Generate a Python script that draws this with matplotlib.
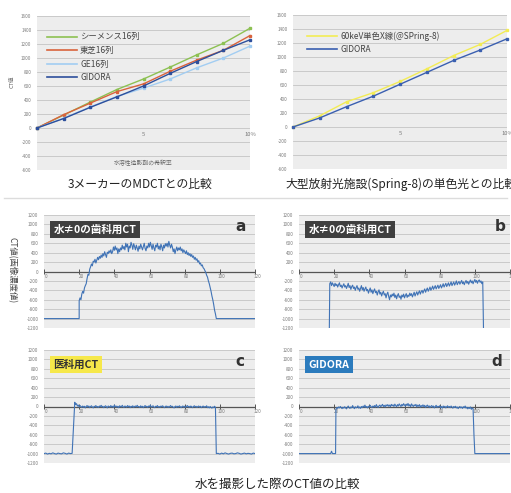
import numpy as np
import matplotlib
matplotlib.use("Agg")
import matplotlib.pyplot as plt
from matplotlib.lines import Line2D

plt.rcParams['font.family'] = ['Noto Sans CJK JP', 'DejaVu Sans']

# ---------------- data: contrast dilution vs CT value ----------------
dilution = [0, 1.25, 2.5, 3.75, 5, 6.25, 7.5, 8.75, 10]
siemens = [0, 185, 370, 550, 700, 870, 1045, 1210, 1425]
toshiba = [0, 190, 355, 520, 630, 810, 970, 1110, 1320]
ge = [0, 140, 300, 450, 570, 700, 860, 1000, 1170]
gidora = [0, 135, 295, 445, 600, 780, 950, 1110, 1260]
spring8 = [0, 160, 360, 490, 650, 830, 1020, 1180, 1380]
gidora_sp = [0, 130, 290, 440, 610, 780, 950, 1100, 1260]

left_labels = ['シーメンス16列', '東芝16列', 'GE16列', 'GIDORA']
right_labels = ['60keV単色X線(@SPring-8)', 'GIDORA']
top_yticks = [-600, -400, -200, 0, 200, 400, 600, 800, 1000, 1200, 1400, 1600]
top_xticks = [5, 10]
top_xticklabels = ['5', '10%']

# ---------------- data: water phantom profiles ----------------
STEP = 0.5
# (a) dental CT, water != 0
a_head_x = [0, 20]
a_head_y = [-1000, -1000]
a_start = 20
a_vals = [
    -620, -560, -600, -480, -420, -460, -350, -300, -260, -150,
    -60, -80, 50, 100, 160, 120, 220, 200, 260, 180,
    240, 300, 250, 320, 280, 350, 300, 380, 330, 420,
    360, 300, 410, 380, 440, 400, 460, 380, 420, 520,
    450, 540, 460, 500, 380, 480, 420, 500, 460, 560,
    480, 530, 460, 600, 520, 580, 420, 540, 500, 620,
    560, 470, 590, 530, 460, 560, 500, 430, 540, 480,
    580, 520, 460, 530, 600, 490, 440, 540, 500, 600,
    520, 620, 540, 470, 580, 500, 440, 560, 520, 600,
    480, 540, 460, 580, 520, 440, 560, 500, 590, 540,
    600, 520, 640, 560, 500, 580, 520, 420, 480, 380,
    460, 520, 440, 500, 460, 520, 440, 480, 400, 460,
    420, 380, 440, 360, 400, 340, 380, 320, 360, 300,
    330, 260, 300, 240, 270, 200, 230, 160, 180, 120,
    140, 80, 60, 20, -20, -80, -120, -200, -260, -340,
    -420, -520, -600, -700, -820, -900,
]
a_tail_x = [98, 120]
a_tail_y = [-1000, -1000]

# (b) dental CT, water != 0 (second unit)
b_head_x = [17.2]
b_head_y = [-1400]
b_start = 17.5
b_vals = [
    -260, -220, -300, -240, -280, -320, -250, -300, -270, -330,
    -280, -240, -320, -290, -350, -300, -260, -330, -300, -360,
    -310, -250, -340, -300, -380, -320, -290, -360, -330, -400,
    -340, -300, -380, -350, -420, -360, -300, -390, -340, -420,
    -370, -330, -410, -380, -460, -400, -350, -440, -390, -470,
    -410, -370, -450, -420, -500, -430, -390, -480, -440, -520,
    -460, -420, -500, -470, -560, -480, -440, -530, -600, -500,
    -540, -480, -520, -460, -550, -500, -580, -510, -470, -550,
    -520, -590, -500, -540, -480, -560, -510, -470, -550, -500,
    -530, -460, -510, -470, -540, -490, -440, -520, -470, -430,
    -500, -450, -410, -480, -430, -400, -460, -410, -370, -440,
    -390, -350, -420, -380, -330, -400, -360, -310, -380, -340,
    -300, -370, -330, -290, -360, -320, -280, -350, -310, -260,
    -330, -290, -250, -320, -280, -240, -310, -270, -220, -300,
    -260, -220, -290, -250, -200, -280, -240, -210, -270, -230,
    -190, -260, -220, -280, -230, -190, -250, -210, -270, -220,
    -180, -240, -200, -260, -210, -170, -230, -190, -250, -200,
    -180, -230, -200, -260, -220,
]
b_tail_x = [105]
b_tail_y = [-1400]

# (c) medical CT
c_head_x = list(range(0, 17))
c_head_y = [-1000, -990, -1010, -995, -1005, -985, -1000, -1010, -990,
            -1000, -1005, -985, -995, -1010, -990, -1000, -995]
c_start = 17
c_vals = [
    -250, 90, 40, 60, 10, 30, -10, 20, 0, -20,
    10, -15, 5, -30, 0, 20, -10, 10, -25, 0,
    15, -10, -30, 5, -5, 20, -15, 0, -20, 10,
    -5, 25, -10, 5, -25, 0, 15, -5, -30, 10,
    0, -15, 20, -10, 5, -20, 30, -5, 10, -15,
    5, -25, 15, 0, -10, 25, -5, -20, 10, 0,
    -15, 20, -5, 10, -25, 5, -10, 15, -20, 0,
    10, -10, 25, -5, 0, -20, 15, -15, 5, -25,
    0, 20, -10, 5, -20, 10, -5, 30, -15, 0,
    15, -10, -25, 5, -5, 20, -15, 0, -20, 10,
    -5, 15, -10, -25, 0, 10, -15, 5, -20, 0,
    20, -10, 5, -15, -30, 0, 10, -20, 5, -10,
    15, -5, -25, 0, 10, -15, 5, -20, 0, 20,
    -10, 5, -20, 10, -5, -25, 0, 15, -10, 5,
    -20, 0, 10, -15, 5, -25, -5, 10, -20, 0,
    -10, 15, -25, -5, -30, 0, -20, -35, -10, -25,
    5, -20,
]
c_tail_x = list(range(98, 121))
c_tail_y = [-1000, -995, -1010, -990, -1005, -985, -1000, -1010, -995, -990,
            -1005, -1000, -985, -995, -1010, -1000, -990, -1005, -995, -1000,
            -1010, -990, -1000]

# (d) GIDORA
d_head_x = [0, 18, 18.5, 19, 20.8]
d_head_y = [-1000, -1000, -950, -1000, -1000]
d_start = 21
d_vals = [
    -60, -20, -40, -10, -30, 0, -25, -45, -15, -35,
    -5, -30, -50, -20, 10, -25, -40, -10, -30, 20,
    -20, -45, -5, -30, -15, 15, -35, -10, -40, 0,
    -25, 10, -15, 30, -20, 0, -30, 5, -10, 25,
    -5, -25, 10, -10, 20, -15, 40, 0, -20, 15,
    30, -5, 20, 45, 0, 25, -10, 35, 10, 40,
    5, 30, -5, 45, 15, 35, 0, 50, 20, -5,
    40, 10, 55, 25, 0, 45, 15, 60, 30, 5,
    50, 20, 65, 10, 40, -5, 55, 25, 0, 35,
    15, 45, -10, 30, 5, 40, -15, 20, 0, 35,
    -5, 25, -20, 10, 30, -10, 15, -25, 5, 20,
    -15, 10, -30, 0, 25, -20, 5, -10, 15, -25,
    0, -35, 10, -15, 5, -30, -5, 15, -20, 0,
    -25, 10, -10, -35, 0, -20, 5, -30, -10, -45,
    -15, 0, -30, -10, -40, -5, -25, 10, -35, -15,
    -50, -20, -40, -10, -60, -30, -45,
]
d_tail_x = [99.5, 100, 120]
d_tail_y = [-600, -1000, -1000]

bot_yticks = [-1200, -1000, -800, -600, -400, -200, 0, 200, 400, 600, 800, 1000, 1200]
bot_xticks = [0, 20, 40, 60, 80, 100, 120]

# ---------------- styling ----------------
PANEL_BG = '#ededed'
GRID = '#c4c4c4'
TICK_COL = '#7a7a7a'
PROFILE = '#4073b6'

W, H = 511, 493
fig = plt.figure(figsize=(W / 100, H / 100), dpi=100)
fig.patch.set_facecolor('white')


def px_axes(x0, y0, x1, y1):
    return fig.add_axes([x0 / W, 1 - y1 / H, (x1 - x0) / W, (y1 - y0) / H])


def fx(x):
    return x / W


def fy(y):
    return 1 - y / H


def style_top(ax):
    ax.set_facecolor(PANEL_BG)
    ax.set_xlim(0, 10)
    ax.set_ylim(-600, 1600)
    ax.set_yticks(top_yticks)
    ax.set_yticklabels([str(v) for v in top_yticks], fontsize=3.3, color=TICK_COL)
    ax.tick_params(axis='y', length=0, pad=4)
    ax.set_xticks([])
    ax.grid(axis='y', color=GRID, lw=0.6)
    ax.set_axisbelow(True)
    for s in ax.spines.values():
        s.set_visible(False)
    for xv, lab in zip(top_xticks, top_xticklabels):
        ax.annotate(lab, (xv, 0), xytext=(0, -3), textcoords='offset points',
                    ha='center', va='top', fontsize=4.2, color=TICK_COL,
                    annotation_clip=False)


def series(ax, y, color):
    ax.plot(dilution, y, color=color, lw=1.0, marker='s', ms=2.0,
            mec=color, mfc=color, clip_on=False, zorder=3)


# top-left: three MDCT vendors vs GIDORA
ax1 = px_axes(37, 16, 250, 170)
style_top(ax1)
left_cols = ['#8dc153', '#d9633c', '#a2cdf2', '#2d4f9c']
for yv, col in zip([siemens, toshiba, ge, gidora], left_cols):
    series(ax1, yv, col)
h1 = [Line2D([], [], color=c, lw=1.2) for c in left_cols]
ax1.legend(h1, left_labels, loc='upper left', bbox_to_anchor=(0.03, 0.915),
           frameon=False, fontsize=6, handlelength=3.6, handletextpad=0.4,
           labelspacing=0.55, borderaxespad=0, labelcolor='#444')
ax1.text(0.5, 0.045, '水溶性造影剤の希釈率', transform=ax1.transAxes,
         ha='center', va='center', fontsize=4.2, color='#666')
fig.text(fx(12), fy(82), 'CT値', rotation=90, ha='center', va='center',
         fontsize=4, color='#666')
fig.text(fx(140), fy(184), '3メーカーのMDCTとの比較', ha='center', va='center',
         fontsize=8.5, color='#222')

# top-right: SPring-8 monochromatic beam vs GIDORA
ax2 = px_axes(293, 15, 507, 169)
style_top(ax2)
right_cols = ['#f3ec55', '#3a5fb0']
for yv, col in zip([spring8, gidora_sp], right_cols):
    series(ax2, yv, col)
h2 = [Line2D([], [], color=c, lw=1.2) for c in right_cols]
ax2.legend(h2, right_labels, loc='upper left', bbox_to_anchor=(0.05, 0.915),
           frameon=False, fontsize=6, handlelength=3.6, handletextpad=0.4,
           labelspacing=0.55, borderaxespad=0, labelcolor='#444')
fig.text(fx(285), fy(184), '大型放射光施設(Spring-8)の単色光との比較',
         ha='left', va='center', fontsize=8.5, color='#222')

# separator between the two rows
fig.add_artist(Line2D([fx(4), fx(507)], [fy(198), fy(198)],
                      color='#dcdcdc', lw=1.0))


def style_bottom(ax):
    ax.set_facecolor(PANEL_BG)
    ax.set_xlim(0, 120)
    ax.set_ylim(-1200, 1200)
    ax.set_yticks(bot_yticks)
    ax.set_yticklabels([str(v) for v in bot_yticks], fontsize=3.3, color=TICK_COL)
    ax.tick_params(axis='y', length=0, pad=4)
    ax.set_xticks([])
    ax.grid(axis='y', color=GRID, lw=0.6)
    ax.set_axisbelow(True)
    for s in ax.spines.values():
        s.set_visible(False)
    ax.axhline(0, color='#555555', lw=0.9, zorder=2)
    ax.vlines(bot_xticks, -45, 45, color='#555555', lw=0.7, zorder=2, clip_on=False)
    for xv in bot_xticks:
        ax.annotate(str(xv), (xv, 0), xytext=(1.5, -2), textcoords='offset points',
                    ha='center', va='top', fontsize=3.3, color=TICK_COL,
                    annotation_clip=False)


def profile(ax, hx, hy, start, vals, tx, ty):
    xs = list(hx) + [start + STEP * i for i in range(len(vals))] + list(tx)
    ys = list(hy) + list(vals) + list(ty)
    ax.plot(xs, ys, color=PROFILE, lw=0.8, zorder=3)


def tag(ax, text, fc, tc):
    ax.text(0.045, 0.87, text, transform=ax.transAxes, ha='left', va='center',
            fontsize=7.6, fontweight='bold', color=tc, zorder=5,
            bbox=dict(boxstyle='square,pad=0.32', fc=fc, ec='none'))


def letter(ax, ch, x):
    ax.text(x, 0.895, ch, transform=ax.transAxes, ha='center', va='center',
            fontsize=11, fontweight='bold', color='#333', zorder=5,
            family='DejaVu Sans')


axa = px_axes(44, 215, 255, 328)
style_bottom(axa)
profile(axa, a_head_x, a_head_y, a_start, a_vals, a_tail_x, a_tail_y)
tag(axa, '水≠0の歯科用CT', '#3f3f3f', 'white')
letter(axa, 'a', 0.93)

axb = px_axes(299, 215, 510, 328)
style_bottom(axb)
profile(axb, b_head_x, b_head_y, b_start, b_vals, b_tail_x, b_tail_y)
tag(axb, '水≠0の歯科用CT', '#3f3f3f', 'white')
letter(axb, 'b', 0.955)

axc = px_axes(44, 350, 255, 463)
style_bottom(axc)
profile(axc, c_head_x, c_head_y, c_start, c_vals, c_tail_x, c_tail_y)
tag(axc, '医科用CT', '#f6e84a', '#333333')
letter(axc, 'c', 0.93)

axd = px_axes(299, 350, 510, 463)
style_bottom(axd)
profile(axd, d_head_x, d_head_y, d_start, d_vals, d_tail_x, d_tail_y)
tag(axd, 'GIDORA', '#2b7bbd', 'white')
letter(axd, 'd', 0.935)

fig.text(fx(12), fy(270), 'CT値(画像濃度値)', rotation=270, ha='center',
         va='center', fontsize=6, color='#444')
fig.text(fx(277), fy(484), '水を撮影した際のCT値の比較', ha='center', va='center',
         fontsize=9, color='#222')

fig.savefig('out.png', dpi=100, facecolor='white')
